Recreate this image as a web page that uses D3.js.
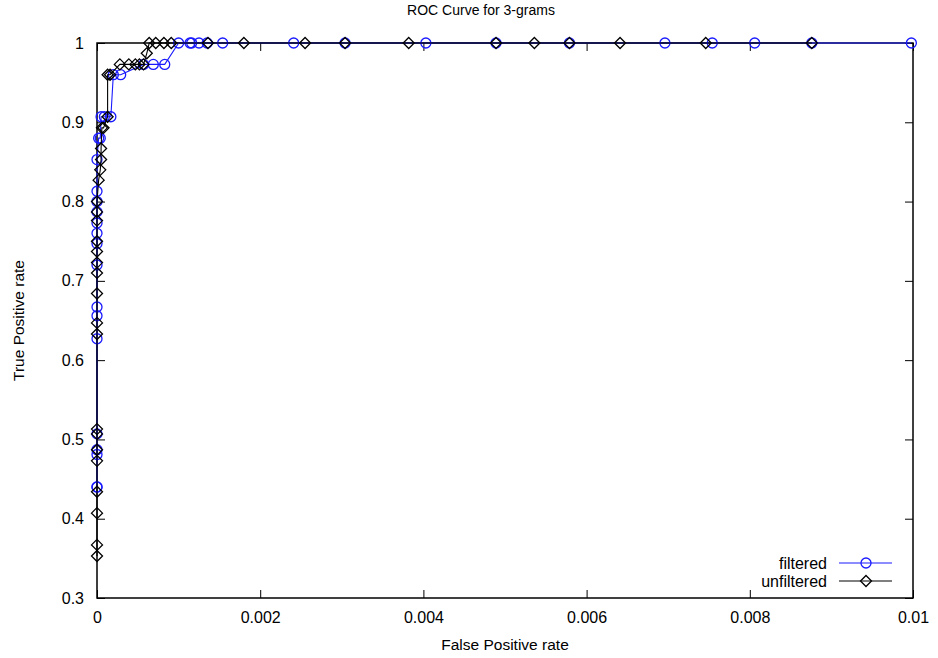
<!DOCTYPE html>
<html>
<head>
    <meta charset="utf-8">
    <script src="https://cdn.jsdelivr.net/npm/d3@7/dist/d3.min.js"></script>
    <title>ROC Curve for 3-grams</title>
    <style>
        * {
            margin: 0;
            padding: 0;
        }

        body {
            background: white;
        }

        #roc {
            display: block;
            font-family: "Liberation Sans", Arial, sans-serif;
        }
    </style>
</head>
<body>

    <svg id="roc" width="938" height="658"></svg>

    <script>
        // filtered: [false positive rate, true positive rate]
        var filtered = [
            [0, 0.44], [0, 0.44], [0, 0.481], [0, 0.487], [0, 0.507], [0, 0.627], [0, 0.656],
            [0, 0.667], [0, 0.72], [0, 0.747], [0, 0.76], [0, 0.773], [0, 0.787], [0, 0.8],
            [0, 0.813], [0, 0.853], [0.00002, 0.88], [0.00004, 0.88], [0.00005, 0.907],
            [0.00009, 0.907], [0.00017, 0.907], [0.0002, 0.96], [0.00029, 0.96],
            [0.00057, 0.973], [0.00069, 0.973], [0.00083, 0.973], [0.001, 1], [0.00114, 1],
            [0.00116, 1], [0.00125, 1], [0.00135, 1], [0.00154, 1], [0.00241, 1], [0.00304, 1],
            [0.00403, 1], [0.00489, 1], [0.00579, 1], [0.00696, 1], [0.00754, 1], [0.00806, 1],
            [0.00876, 1], [0.00998, 1]
        ];

        // unfiltered: [false positive rate, true positive rate]
        var unfiltered = [
            [0, 0.353], [0, 0.367], [0, 0.407], [0, 0.434], [0, 0.473], [0, 0.487], [0, 0.507],
            [0, 0.513], [0, 0.633], [0, 0.647], [0, 0.684], [0, 0.71], [0, 0.723], [0, 0.737],
            [0, 0.75], [0, 0.776], [0, 0.787], [0, 0.8], [0.00002, 0.827], [0.00004, 0.84],
            [0.00005, 0.853], [0.00005, 0.867], [0.00006, 0.893], [0.00008, 0.893],
            [0.00013, 0.907], [0.00013, 0.96], [0.00016, 0.96], [0.00028, 0.973],
            [0.00039, 0.973], [0.00047, 0.973], [0.00052, 0.973], [0.00057, 0.973],
            [0.00061, 0.987], [0.00064, 1], [0.00072, 1], [0.00082, 1], [0.00091, 1],
            [0.00136, 1], [0.0018, 1], [0.00255, 1], [0.00304, 1], [0.00382, 1], [0.00489, 1],
            [0.00536, 1], [0.00579, 1], [0.00641, 1], [0.00746, 1], [0.00876, 1]
        ];

        var xTicks = [0, 0.002, 0.004, 0.006, 0.008, 0.01];
        var yTicks = [0.3, 0.4, 0.5, 0.6, 0.7, 0.8, 0.9, 1];

        var chart = {};
        chart.margin = { top: 43, right: 25, bottom: 60, left: 97 };
        chart.width = 938 - chart.margin.left - chart.margin.right;
        chart.height = 658 - chart.margin.top - chart.margin.bottom;

        chart.svg = d3.select("#roc")
            .append("g")
            .attr("transform", "translate(" + chart.margin.left + "," + chart.margin.top + ")");

        chart.x = d3.scaleLinear().domain([0, 0.01]).range([0, chart.width]);
        chart.y = d3.scaleLinear().domain([0.3, 1]).range([chart.height, 0]);

        var fmt = function (d) { return String(+d.toFixed(3)); };

        // axes, gnuplot style: inward ticks mirrored on all sides
        chart.svg.append("g")
            .attr("class", "axis")
            .attr("transform", "translate(0," + chart.height + ")")
            .call(d3.axisBottom(chart.x).tickValues(xTicks).tickFormat(fmt).tickSize(-8).tickPadding(14));
        chart.svg.append("g")
            .attr("class", "axis")
            .call(d3.axisTop(chart.x).tickValues(xTicks).tickFormat("").tickSize(-8));
        chart.svg.append("g")
            .attr("class", "axis")
            .call(d3.axisLeft(chart.y).tickValues(yTicks).tickFormat(fmt).tickSize(-8).tickPadding(13));
        chart.svg.append("g")
            .attr("class", "axis")
            .attr("transform", "translate(" + chart.width + ",0)")
            .call(d3.axisRight(chart.y).tickValues(yTicks).tickFormat("").tickSize(-8));

        chart.svg.selectAll(".axis .domain").remove();
        chart.svg.selectAll(".axis line").attr("stroke", "#000").attr("stroke-width", 1);
        chart.svg.selectAll(".axis text")
            .style("font-family", "'Liberation Sans', Arial, sans-serif")
            .style("font-size", "16px")
            .attr("fill", "#000");

        chart.svg.append("rect")
            .attr("width", chart.width)
            .attr("height", chart.height)
            .attr("fill", "none")
            .attr("stroke", "#000")
            .attr("stroke-width", 1.5);

        // titles
        d3.select("#roc").append("text")
            .attr("x", 481)
            .attr("y", 15)
            .attr("text-anchor", "middle")
            .style("font-size", "14px")
            .text("ROC Curve for 3-grams");

        d3.select("#roc").append("text")
            .attr("x", chart.margin.left + chart.width / 2)
            .attr("y", 650)
            .attr("text-anchor", "middle")
            .style("font-size", "15.5px")
            .text("False Positive rate");

        d3.select("#roc").append("text")
            .attr("transform", "translate(24," + (chart.margin.top + chart.height / 2) + ") rotate(-90)")
            .attr("text-anchor", "middle")
            .style("font-size", "15.5px")
            .text("True Positive rate");

        chart.line = d3.line()
            .x(function (d) { return chart.x(d[0]); })
            .y(function (d) { return chart.y(d[1]); });

        var series = [
            { name: "filtered", data: filtered, color: "#1a1aff", shape: "circle" },
            { name: "unfiltered", data: unfiltered, color: "#000000", shape: "diamond" }
        ];

        var diamond = function (cx, cy, r) {
            return "M" + cx + "," + (cy - r) + "L" + (cx + r) + "," + cy +
                "L" + cx + "," + (cy + r) + "L" + (cx - r) + "," + cy + "Z";
        };

        function drawMarks(g, s, pts) {
            if (s.shape == "circle") {
                g.selectAll("circle")
                    .data(pts)
                    .enter()
                    .append("circle")
                    .attr("cx", function (d) { return d[0]; })
                    .attr("cy", function (d) { return d[1]; })
                    .attr("r", 5)
                    .attr("fill", "none")
                    .attr("stroke", s.color)
                    .attr("stroke-width", 1.3);
            } else {
                g.selectAll("path.mark")
                    .data(pts)
                    .enter()
                    .append("path")
                    .attr("class", "mark")
                    .attr("d", function (d) { return diamond(d[0], d[1], 5.5); })
                    .attr("fill", "none")
                    .attr("stroke", s.color)
                    .attr("stroke-width", 1.3);
            }
        }

        series.forEach(function (s) {
            var g = chart.svg.append("g").attr("class", s.name);
            g.append("path")
                .attr("d", chart.line(s.data))
                .attr("fill", "none")
                .attr("stroke", s.color)
                .attr("stroke-width", 1.1);
            drawMarks(g, s, s.data.map(function (d) { return [chart.x(d[0]), chart.y(d[1])]; }));
        });

        // legend
        var legendY = [563, 581];
        series.forEach(function (s, i) {
            var lg = d3.select("#roc").append("g").attr("class", "legend");
            lg.append("text")
                .attr("x", 827)
                .attr("y", legendY[i] + 5.5)
                .attr("text-anchor", "end")
                .style("font-size", "16px")
                .text(s.name);
            lg.append("line")
                .attr("x1", 839).attr("x2", 892)
                .attr("y1", legendY[i]).attr("y2", legendY[i])
                .attr("stroke", s.color)
                .attr("stroke-width", 1.1);
            drawMarks(lg, s, [[866, legendY[i]]]);
        });
    </script>
</body>
</html>
